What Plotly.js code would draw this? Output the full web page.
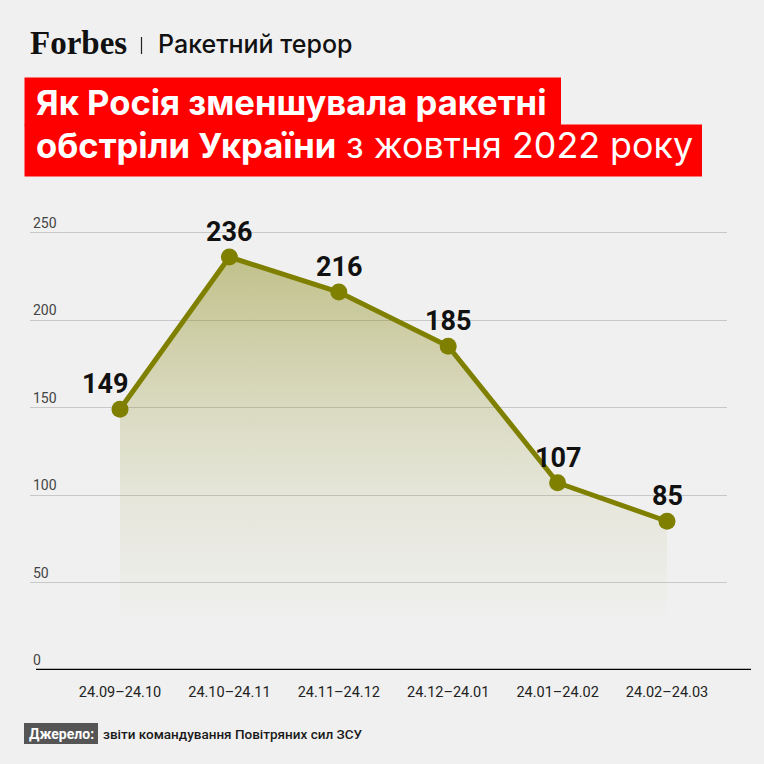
<!DOCTYPE html>
<html>
<head>
<meta charset="utf-8">
<script src="https://cdn.plot.ly/plotly-3.0.1.min.js"></script>
<style>
  html, body { margin: 0; padding: 0; background: #f0f0f0; }
  #chart { width: 764px; height: 764px; }
</style>
</head>
<body>
<div id="chart"></div>
<script>
const categories = ['24.09–24.10', '24.10–24.11', '24.11–24.12', '24.12–24.01', '24.01–24.02', '24.02–24.03'];
const values = [149, 236, 216, 185, 107, 85];
const yTicks = [0, 50, 100, 150, 200, 250];
const yTickLabels = ['0', '50', '100', '150', '200', '250'];
const labelShiftX = [-15, 0, 0, 0, 0, 0];

const headerBrand = 'Forbes';
const headerRubric = 'Ракетний терор';
const titleLine1 = '<b>Як Росія зменшувала ракетні</b>';
const titleLine2 = '<b>обстріли України</b> <span style="font-size:35.8px">з жовтня 2022 року</span>';
const sourceTag = '<b>Джерело:</b>';
const sourceText = 'звіти командування Повітряних сил ЗСУ';

// plot area geometry (pixels)
const W = 764, H = 764;
const L = 30, R = 727, T = 197, B = 670;
const PXU = 1.75; // pixels per y unit
const px2x = p => (p - L) / (R - L);
const py2y = p => (B - p) / (B - T);

const OLIVE = '#808000';
const FONT = 'Roboto, "Noto Sans", sans-serif';
const TFONT = 'Inter, Roboto, sans-serif';

const trace = {
  x: categories,
  y: values,
  type: 'scatter',
  mode: 'lines+markers',
  line: { color: OLIVE, width: 5 },
  marker: { color: OLIVE, size: 17 },
  fill: 'tozeroy',
  fillgradient: {
    type: 'vertical',
    start: 26,
    stop: 236,
    colorscale: [
      [0, 'rgba(128,128,0,0)'],
      [0.34, 'rgba(128,128,0,0.09)'],
      [0.58, 'rgba(128,128,0,0.19)'],
      [1, 'rgba(128,128,0,0.42)']
    ]
  },
  hoverinfo: 'skip',
  cliponaxis: false
};

const annotations = [];
values.forEach((v, i) => {
  annotations.push({
    x: categories[i], y: v, xref: 'x', yref: 'y',
    text: '<b>' + v + '</b>',
    showarrow: false,
    xanchor: 'center', yanchor: 'middle',
    xshift: labelShiftX[i], yshift: 25,
    font: { family: FONT, size: 27, color: '#111' }
  });
});

// header
annotations.push({
  xref: 'paper', yref: 'paper', x: px2x(28), y: py2y(43),
  xanchor: 'left', yanchor: 'middle', showarrow: false,
  text: '<b>' + headerBrand + '</b>',
  font: { family: '"Liberation Serif", "DejaVu Serif", serif', size: 33, color: '#111' }
});
annotations.push({
  xref: 'paper', yref: 'paper', x: px2x(156), y: py2y(44),
  xanchor: 'left', yanchor: 'middle', showarrow: false,
  text: headerRubric,
  font: { family: TFONT, size: 25, color: '#111', weight: 500 }
});
annotations.push({
  xref: 'paper', yref: 'paper', x: px2x(34), y: py2y(102),
  xanchor: 'left', yanchor: 'middle', showarrow: false,
  text: titleLine1,
  font: { family: TFONT, size: 34.6, color: '#ffffff' }
});
annotations.push({
  xref: 'paper', yref: 'paper', x: px2x(34), y: py2y(145),
  xanchor: 'left', yanchor: 'middle', showarrow: false,
  text: titleLine2,
  font: { family: TFONT, size: 34.6, color: '#ffffff' }
});
// source
annotations.push({
  xref: 'paper', yref: 'paper', x: px2x(61), y: py2y(733.5),
  xanchor: 'center', yanchor: 'middle', showarrow: false,
  text: sourceTag,
  font: { family: FONT, size: 14, color: '#ffffff' }
});
annotations.push({
  xref: 'paper', yref: 'paper', x: px2x(101), y: py2y(733.5),
  xanchor: 'left', yanchor: 'middle', showarrow: false,
  text: sourceText,
  font: { family: FONT, size: 13.5, color: '#1a1a1a', weight: 500 }
});

const shapes = [
  // title boxes
  { type: 'rect', xref: 'paper', yref: 'paper', layer: 'below',
    x0: px2x(24.5), x1: px2x(561), y0: py2y(125.5), y1: py2y(77.5),
    fillcolor: '#ff0000', line: { width: 0 } },
  { type: 'rect', xref: 'paper', yref: 'paper', layer: 'below',
    x0: px2x(24.5), x1: px2x(702), y0: py2y(176.5), y1: py2y(124.5),
    fillcolor: '#ff0000', line: { width: 0 } },
  // header divider
  { type: 'line', xref: 'paper', yref: 'paper',
    x0: px2x(141.5), x1: px2x(141.5), y0: py2y(54), y1: py2y(37),
    line: { color: '#222', width: 1.2 } },
  // source tag box
  { type: 'rect', xref: 'paper', yref: 'paper', layer: 'below',
    x0: px2x(24), x1: px2x(98), y0: py2y(744), y1: py2y(723),
    fillcolor: '#555555', line: { width: 0 } },
  // baseline axis
  { type: 'line', xref: 'paper', yref: 'y', layer: 'above',
    x0: px2x(36), x1: px2x(751), y0: 0, y1: 0,
    line: { color: '#000', width: 2.5 } }
];

const layout = {
  width: W, height: H,
  paper_bgcolor: '#f0f0f0',
  plot_bgcolor: '#f0f0f0',
  margin: { l: L, r: W - R, t: T, b: H - B },
  showlegend: false,
  xaxis: {
    type: 'category',
    range: [(L - 120) / 109.4, (R - 120) / 109.4],
    showgrid: false, zeroline: false, showline: false,
    ticks: '', ticklabelstandoff: 11,
    tickfont: { family: FONT, size: 14.5, color: '#222' },
    fixedrange: true
  },
  yaxis: {
    range: [0, (B - T) / PXU],
    tickvals: yTicks,
    ticktext: yTickLabels,
    showgrid: true, gridcolor: '#c8c8c8', gridwidth: 1,
    zeroline: false, showline: false, ticks: '',
    ticklabelposition: 'inside top',
    tickfont: { family: FONT, size: 14, color: '#444' },
    fixedrange: true
  },
  annotations: annotations,
  shapes: shapes
};

Plotly.newPlot('chart', [trace], layout, { displayModeBar: false, staticPlot: true });
</script>
</body>
</html>
